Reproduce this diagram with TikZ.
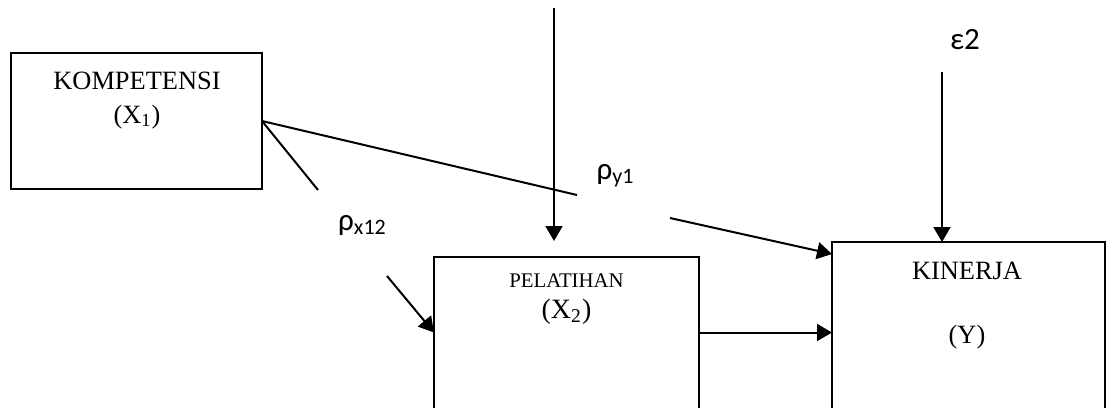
\documentclass[tikz,border=0pt]{standalone}
\usepackage{fontspec}
\setmainfont{Liberation Serif}
\newfontfamily\lblfont{Carlito}
\usetikzlibrary{arrows.meta}

\begin{document}
\begin{tikzpicture}[x=0.5pt,y=-0.5pt,
  box/.style={draw=none,inner sep=0,outer sep=0,rectangle},
  frame/.style={line width=0.8pt},
  conn/.style={line width=1pt},
  arr/.style={conn,-{Triangle[length=7.5pt,width=8.5pt]}},
  boxtext/.style={anchor=base,inner sep=0,font=\fontsize{13.2}{15}\selectfont},
  coef/.style={font=\lblfont\fontsize{15.5}{17}\selectfont,inner sep=0},
  coefsub/.style={font=\lblfont\fontsize{11}{12}\selectfont}]
\useasboundingbox (0,0) rectangle (1107,408);

% variable boxes
\node[box,minimum width=125.5pt,minimum height=68pt] (kom) at (136.5,121) {};
\node[box,minimum width=132.5pt,minimum height=75.5pt] (pel) at (566.5,332.5) {};
\node[box,minimum width=136.5pt,minimum height=83pt] (kin) at (968.5,325) {};

\draw[frame] (kom.south west) rectangle (kom.north east);
\draw[frame] (pel.south west) -- (pel.north west) -- (pel.north east) -- (pel.south east);
\draw[frame] (kin.south west) -- (kin.north west) -- (kin.north east) -- (kin.south east);

% box captions
\node[boxtext] (komT) at (137,89) {KOMPETENSI};
\node[boxtext] (komX) at (137,123) {(X\textsubscript{1})};
\node[boxtext,font=\fontsize{10.4}{12}\selectfont] (pelT) at (566.5,287) {PELATIHAN};
\node[boxtext,font=\fontsize{14}{16}\selectfont] (pelX) at (566.5,318) {(X\textsubscript{2})};
\node[boxtext] (kinT) at (967,279) {KINERJA};
\node[boxtext] (kinY) at (967,343) {(Y)};

% path coefficients and residual
\node[coef] (py1) at (615,176) {ρ\raisebox{-2pt}{\lblfont\fontsize{11}{12}\selectfont y1}};
\node[coef] (px12) at (362,225) {ρ\raisebox{-2pt}{\lblfont\fontsize{11}{12}\selectfont x12}};
\node[coef] (eps) at (965,40) {ε2};

% free ends of the connectors
\coordinate (topA) at (554,8);
\coordinate (topB) at (554,241);
\coordinate (epsA) at (942,72);
\coordinate (g1) at (577,195);
\coordinate (g2) at (670,218);
\coordinate (k1) at (832,254);
\coordinate (g3) at (318,190);
\coordinate (g4) at (387,276);

% connectors
\draw[arr] (topA) -- (topB);
\draw[arr] (epsA) -- (kin.north -| epsA);
\draw[conn] (kom.east) -- (g1);
\draw[arr] (g2) -- (k1);
\draw[conn] (kom.east) -- (g3);
\draw[arr] (g4) -- (pel.west);
\draw[arr] (pel.east) -- (pel.east -| kin.west);
\end{tikzpicture}
\end{document}
